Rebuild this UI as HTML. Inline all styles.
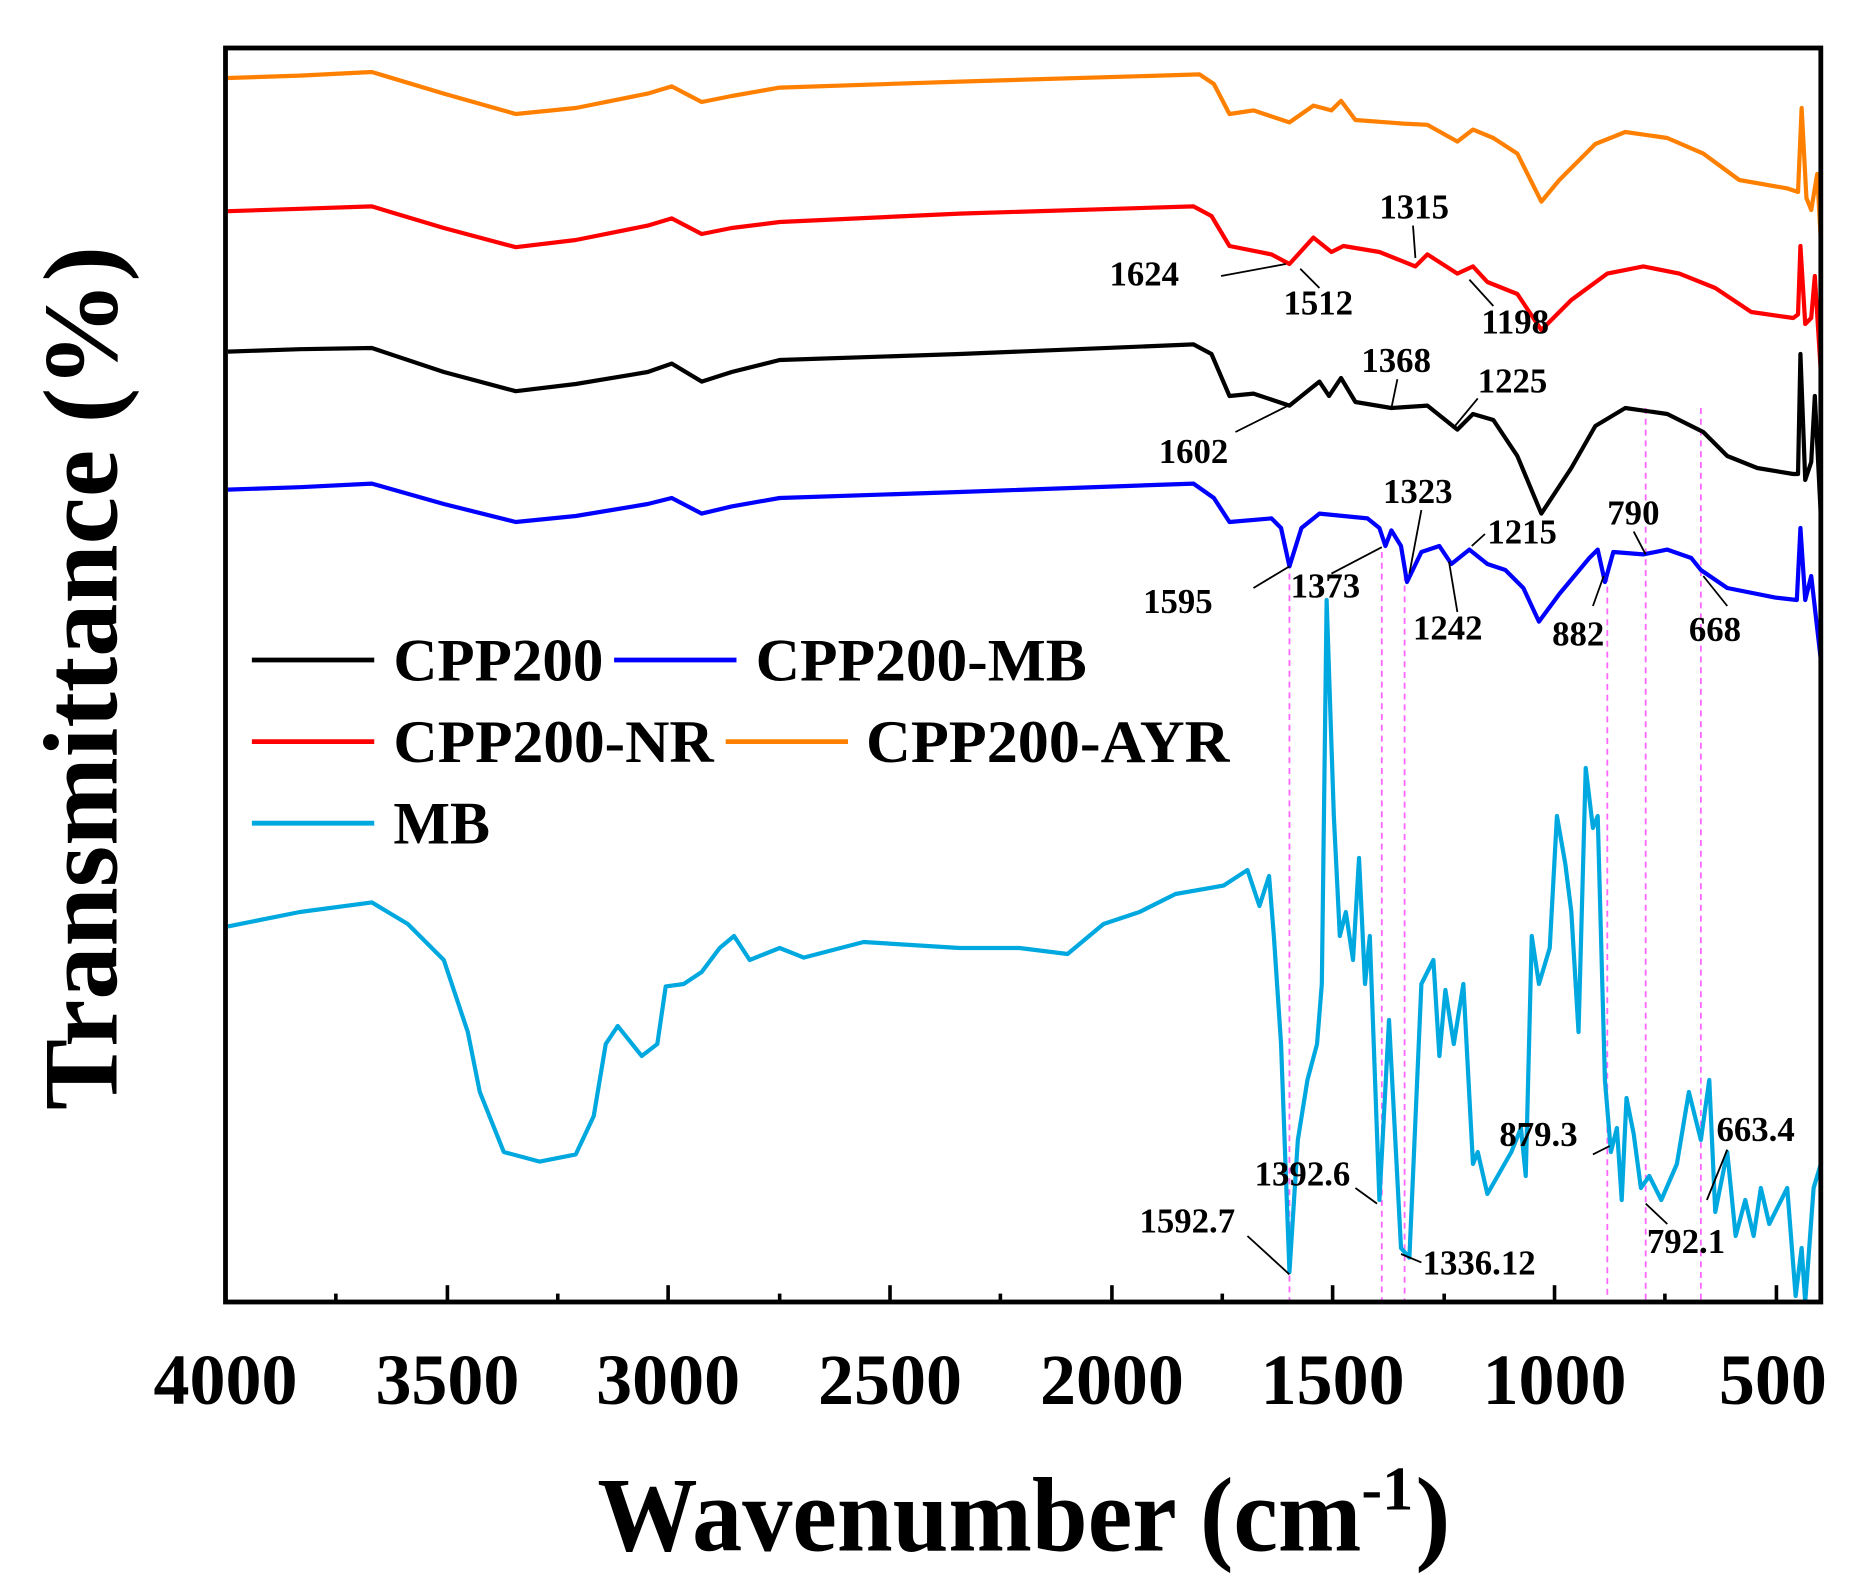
<!DOCTYPE html>
<html><head><meta charset="utf-8"><style>html,body{margin:0;padding:0;background:#fff}svg{display:block}</style></head>
<body>
<svg width="1864" height="1584" viewBox="0 0 1554 1320" preserveAspectRatio="none" xmlns="http://www.w3.org/2000/svg" font-family="Liberation Serif, serif">
<rect width="1554" height="1320" fill="#fff"/>
<g stroke="#ff66ff" stroke-width="1.5" stroke-dasharray="5,4" fill="none">
<line x1="1075" y1="478" x2="1075" y2="1085"/><line x1="1152" y1="460" x2="1152" y2="1085"/>
<line x1="1171" y1="470" x2="1171" y2="1085"/><line x1="1340" y1="480" x2="1340" y2="1085"/>
<line x1="1372" y1="340" x2="1372" y2="1085"/><line x1="1418" y1="340" x2="1418" y2="1085"/>
</g>
<g fill="none" stroke-width="3.5" stroke-linejoin="round">
<polyline stroke="#ff8000" points="190,65 250,63 310,60 370,78 430,95 480,90 540,78 560,72 585,85 610,80 650,73 800,68 1000,62 1012,70 1025,95 1045,92 1075,102 1095,88 1110,92 1118,84 1130,100 1170,103 1190,104 1215,118 1228,108 1245,115 1265,128 1285,168 1300,150 1330,120 1355,110 1390,115 1420,128 1450,150 1490,157 1499,160 1502,90 1506,165 1510,175 1515,145 1518,200"/>
<polyline stroke="#ff0000" points="190,176 250,174 310,172 370,190 430,206 480,200 540,188 560,182 585,195 610,190 650,185 800,178 995,172 1010,180 1025,205 1060,212 1075,220 1095,198 1110,210 1120,205 1150,210 1180,222 1190,212 1215,228 1228,222 1240,235 1265,245 1285,275 1310,250 1340,228 1370,222 1400,228 1430,240 1460,260 1495,265 1499,262 1501,205 1505,270 1510,265 1513,230 1518,310"/>
<polyline stroke="#000000" points="190,293 250,291 310,290 370,310 430,326 480,320 540,310 560,303 585,318 610,310 650,300 800,295 995,287 1010,295 1025,330 1045,328 1075,338 1095,322 1100,318 1108,330 1118,315 1130,335 1160,340 1190,338 1215,358 1228,345 1245,350 1265,380 1285,428 1310,390 1330,355 1355,340 1390,345 1420,360 1440,380 1465,390 1495,395 1499,395 1501,295 1505,400 1510,385 1513,330 1518,430"/>
<polyline stroke="#0000ff" points="190,408 250,406 310,403 370,420 430,435 480,430 540,420 560,415 585,428 610,422 650,415 800,410 995,403 1012,415 1025,435 1060,432 1068,440 1075,472 1085,440 1100,428 1140,432 1150,440 1155,455 1160,442 1168,455 1173,485 1185,460 1200,455 1210,470 1225,458 1240,470 1255,475 1270,490 1283,518 1300,495 1325,465 1332,458 1338,485 1345,460 1370,462 1390,458 1410,465 1418,475 1440,490 1480,498 1498,500 1501,440 1505,500 1510,480 1518,550"/>
<polyline stroke="#00a8e0" points="190,772 250,760 310,752 340,770 370,800 390,860 400,910 420,960 450,968 480,962 495,930 505,870 515,855 535,880 548,870 555,822 570,820 585,810 600,790 612,780 625,800 650,790 670,798 720,785 800,790 850,790 890,795 920,770 950,760 980,745 1020,738 1040,725 1050,755 1058,730 1062,780 1068,870 1075,1060 1082,950 1090,900 1098,870 1102,820 1106,500 1112,680 1117,780 1122,760 1128,800 1133,715 1138,820 1142,780 1150,1000 1158,850 1168,1040 1175,1048 1185,820 1195,800 1200,880 1205,825 1212,870 1220,820 1228,970 1232,960 1240,995 1260,960 1268,940 1272,980 1277,780 1283,820 1292,790 1298,680 1305,720 1310,760 1316,860 1322,640 1328,690 1332,680 1338,900 1343,960 1348,940 1352,1000 1356,915 1362,945 1368,990 1375,980 1385,1000 1398,970 1408,910 1418,950 1425,900 1430,1010 1440,960 1447,1030 1455,1000 1462,1030 1468,990 1475,1020 1490,990 1497,1080 1502,1040 1505,1085 1512,990 1518,970"/>
</g>
<rect x="188" y="40" width="1330" height="1045" fill="none" stroke="#000" stroke-width="4"/>
<g stroke="#000" stroke-width="3">
<line x1="188" y1="1085" x2="188" y2="1071"/><line x1="373" y1="1085" x2="373" y2="1071"/><line x1="557" y1="1085" x2="557" y2="1071"/><line x1="742" y1="1085" x2="742" y2="1071"/><line x1="927" y1="1085" x2="927" y2="1071"/><line x1="1111" y1="1085" x2="1111" y2="1071"/><line x1="1296" y1="1085" x2="1296" y2="1071"/><line x1="1481" y1="1085" x2="1481" y2="1071"/>
<line x1="280" y1="1085" x2="280" y2="1078"/><line x1="465" y1="1085" x2="465" y2="1078"/><line x1="650" y1="1085" x2="650" y2="1078"/><line x1="834" y1="1085" x2="834" y2="1078"/><line x1="1019" y1="1085" x2="1019" y2="1078"/><line x1="1204" y1="1085" x2="1204" y2="1078"/><line x1="1388" y1="1085" x2="1388" y2="1078"/>
</g>
<g font-size="60" font-weight="bold" text-anchor="middle" fill="#000">
<text x="188" y="1170">4000</text><text x="373" y="1170">3500</text><text x="557" y="1170">3000</text><text x="742" y="1170">2500</text><text x="927" y="1170">2000</text><text x="1111" y="1170">1500</text><text x="1296" y="1170">1000</text><text x="1478" y="1170">500</text>
</g>
<text x="498" y="1292" font-size="88" font-weight="bold" textLength="637" lengthAdjust="spacingAndGlyphs">Wavenumber (cm</text>
<text x="1135" y="1258" font-size="52" font-weight="bold">-1</text>
<text x="1180" y="1292" font-size="88" font-weight="bold">)</text>
<text transform="translate(97,565) rotate(-90)" font-size="88" font-weight="bold" text-anchor="middle" textLength="720" lengthAdjust="spacingAndGlyphs">Transmittance (%)</text>
<g stroke-width="4">
<line x1="210" y1="550" x2="312" y2="550" stroke="#000"/><line x1="512" y1="550" x2="614" y2="550" stroke="#0000ff"/>
<line x1="210" y1="618" x2="312" y2="618" stroke="#ff0000"/><line x1="605" y1="618" x2="707" y2="618" stroke="#ff8000"/>
<line x1="210" y1="686" x2="312" y2="686" stroke="#00a8e0"/>
</g>
<g font-size="50" font-weight="bold">
<text x="328" y="567" textLength="175" lengthAdjust="spacingAndGlyphs">CPP200</text><text x="630" y="567" textLength="276" lengthAdjust="spacingAndGlyphs">CPP200-MB</text>
<text x="328" y="635" textLength="267" lengthAdjust="spacingAndGlyphs">CPP200-NR</text><text x="722" y="635" textLength="303" lengthAdjust="spacingAndGlyphs">CPP200-AYR</text>
<text x="328" y="703">MB</text>
</g>
<g font-size="29" font-weight="bold">
<text x="1150" y="182">1315</text><text x="925" y="238">1624</text><text x="1070" y="262">1512</text><text x="1235" y="278">1198</text>
<text x="1135" y="310">1368</text><text x="1232" y="327">1225</text><text x="966" y="386">1602</text>
<text x="1153" y="419">1323</text><text x="1240" y="453">1215</text><text x="1340" y="437">790</text>
<text x="953" y="511">1595</text><text x="1076" y="498">1373</text><text x="1178" y="533">1242</text><text x="1294" y="538">882</text><text x="1408" y="534">668</text>
<text x="1250" y="955">879.3</text><text x="1431" y="951">663.4</text><text x="1046" y="988">1392.6</text>
<text x="950" y="1027">1592.7</text><text x="1186" y="1062">1336.12</text><text x="1373" y="1044">792.1</text>
</g>
<g stroke="#000" stroke-width="1.5" fill="none">
<line x1="1018" y1="230" x2="1072" y2="220"/><line x1="1100" y1="240" x2="1084" y2="224"/><line x1="1178" y1="188" x2="1180" y2="215"/><line x1="1245" y1="255" x2="1225" y2="233"/>
<line x1="1030" y1="360" x2="1078" y2="336"/><line x1="1165" y1="316" x2="1160" y2="340"/><line x1="1232" y1="332" x2="1213" y2="355"/>
<line x1="1045" y1="490" x2="1075" y2="472"/><line x1="1110" y1="478" x2="1152" y2="456"/><line x1="1185" y1="425" x2="1175" y2="478"/><line x1="1238" y1="445" x2="1227" y2="455"/><line x1="1362" y1="443" x2="1372" y2="462"/>
<line x1="1215" y1="510" x2="1208" y2="468"/><line x1="1328" y1="505" x2="1337" y2="480"/><line x1="1440" y1="505" x2="1420" y2="480"/>
<line x1="1328" y1="962" x2="1342" y2="955"/><line x1="1440" y1="958" x2="1423" y2="1000"/><line x1="1130" y1="990" x2="1148" y2="1003"/>
<line x1="1040" y1="1030" x2="1075" y2="1062"/><line x1="1185" y1="1052" x2="1168" y2="1045"/><line x1="1390" y1="1020" x2="1372" y2="1003"/>
</g>
</svg>
</body></html>
